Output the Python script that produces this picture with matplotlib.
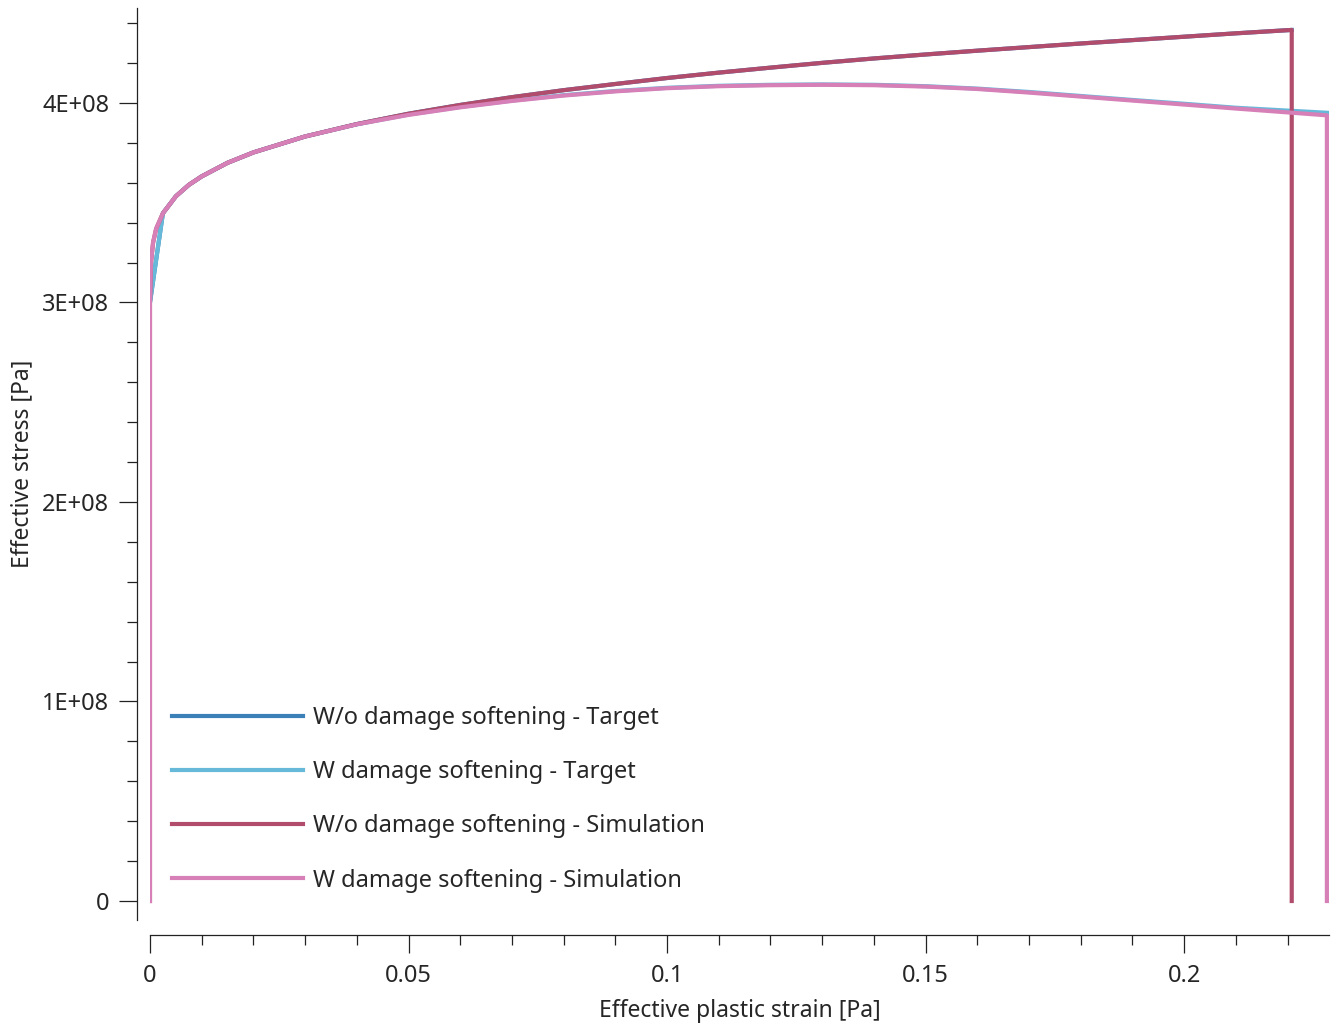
import numpy as np
import matplotlib
matplotlib.use("Agg")
import matplotlib.pyplot as plt
from matplotlib.ticker import MultipleLocator, FuncFormatter

plt.rcParams['font.family'] = ['Noto Sans', 'DejaVu Sans']

# --- data (stress in units of 1E8 Pa) ---
eps_sim = [0.0, 0.0, 0.0002, 0.0006, 0.0012, 0.0025, 0.005, 0.0075, 0.01, 0.015, 0.02,
           0.03, 0.04, 0.05, 0.06, 0.07, 0.08, 0.09, 0.10, 0.11, 0.12, 0.13,
           0.14, 0.15, 0.16, 0.17, 0.18, 0.19, 0.20, 0.21]
eps_tgt = [0.0, 0.0025, 0.005, 0.0075, 0.01, 0.015, 0.02,
           0.03, 0.04, 0.05, 0.06, 0.07, 0.08, 0.09, 0.10, 0.11, 0.12, 0.13,
           0.14, 0.15, 0.16, 0.17, 0.18, 0.19, 0.20, 0.21]

stress_nodmg_sim = [0.0, 3.00, 3.20, 3.30, 3.37, 3.447, 3.532, 3.589, 3.632, 3.700, 3.752,
                    3.832, 3.894, 3.946, 3.990, 4.029, 4.064, 4.095, 4.125, 4.152, 4.177,
                    4.201, 4.223, 4.243, 4.262, 4.280, 4.298, 4.315, 4.332, 4.349]
stress_dmg_sim = [0.0, 3.00, 3.20, 3.30, 3.37, 3.447, 3.532, 3.589, 3.632, 3.700, 3.752,
                  3.832, 3.893, 3.940, 3.978, 4.010, 4.037, 4.058, 4.074, 4.084, 4.089,
                  4.091, 4.089, 4.082, 4.070, 4.052, 4.032, 4.012, 3.992, 3.972]

stress_nodmg_tgt = [3.00, 3.447, 3.532, 3.589, 3.632, 3.700, 3.752,
                    3.832, 3.894, 3.946, 3.990, 4.029, 4.064, 4.095, 4.125, 4.152, 4.177,
                    4.201, 4.223, 4.243, 4.262, 4.280, 4.298, 4.315, 4.332, 4.349]
stress_dmg_tgt = [3.00, 3.447, 3.532, 3.589, 3.632, 3.700, 3.752,
                  3.832, 3.893, 3.942, 3.980, 4.012, 4.039, 4.060, 4.076, 4.086, 4.091,
                  4.093, 4.091, 4.084, 4.072, 4.055, 4.035, 4.015, 3.996, 3.976]

# end points: failure strain and last stress value
end_nodmg = (0.2208, 4.366)
end_dmg_sim = (0.2276, 3.938)
end_dmg_tgt = (0.2282, 3.950)

labels = ['W/o damage softening - Target', 'W damage softening - Target',
          'W/o damage softening - Simulation', 'W damage softening - Simulation']
colors = ['#3b80b7', '#67b9da', '#b14c6c', '#d680b7']

# assemble full curves (sim curves drop to zero at failure)
x_nt = eps_tgt + [end_nodmg[0]]
y_nt = stress_nodmg_tgt + [end_nodmg[1]]
x_dt = eps_tgt + [end_dmg_tgt[0]]
y_dt = stress_dmg_tgt + [end_dmg_tgt[1]]
x_ns = eps_sim + [end_nodmg[0], end_nodmg[0]]
y_ns = stress_nodmg_sim + [end_nodmg[1], 0.0]
x_ds = eps_sim + [end_dmg_sim[0], end_dmg_sim[0]]
y_ds = stress_dmg_sim + [end_dmg_sim[1], 0.0]

fig = plt.figure(figsize=(13.39, 10.24), dpi=100)
ax = fig.add_axes([0.112, 0.1016, 0.8805, 0.8906])

lw = 3.0
ax.plot(x_nt, np.array(y_nt) * 1e8, color=colors[0], lw=lw, label=labels[0])
ax.plot(x_dt, np.array(y_dt) * 1e8, color=colors[1], lw=lw, label=labels[1])
ax.plot(x_ns, np.array(y_ns) * 1e8, color=colors[2], lw=lw, label=labels[2])
ax.plot(x_ds, np.array(y_ds) * 1e8, color=colors[3], lw=lw, label=labels[3])

ax.set_xlim(0, 0.228)
ax.set_ylim(-0.095e8, 4.476e8)

for s in ['top', 'right']:
    ax.spines[s].set_visible(False)
ax.spines['left'].set_position(('outward', 9.4))
ax.spines['bottom'].set_position(('outward', 10.8))
for s in ['left', 'bottom']:
    ax.spines[s].set_color('#222222')
    ax.spines[s].set_linewidth(0.9)

ax.xaxis.set_major_locator(MultipleLocator(0.05))
ax.xaxis.set_minor_locator(MultipleLocator(0.01))
ax.yaxis.set_major_locator(MultipleLocator(1e8))
ax.yaxis.set_minor_locator(MultipleLocator(0.2e8))
ax.xaxis.set_major_formatter(FuncFormatter(lambda v, p: '0' if abs(v) < 1e-12 else f'{v:g}'))
ax.yaxis.set_major_formatter(FuncFormatter(lambda v, p: '0' if abs(v) < 1 else f'{v/1e8:.0f}E+08'))

ax.tick_params(which='major', length=13, width=0.9, color='#222222',
               labelsize=17, labelcolor='#262626', pad=7)
ax.tick_params(axis='x', which='major', pad=8)
ax.tick_params(which='minor', length=7.2, width=0.9, color='#222222')

ax.set_xlabel('Effective plastic strain [Pa]', fontsize=16.5, color='#262626', labelpad=8)
ax.set_ylabel('Effective stress [Pa]', fontsize=16.5, color='#262626', labelpad=6)

ax.legend(loc='lower left', bbox_to_anchor=(0.0187, 0.030), frameon=False,
          fontsize=17, handlelength=5.55, handletextpad=0.42, labelspacing=1.28,
          borderpad=0, borderaxespad=0, labelcolor='#262626')

fig.savefig('out.png', dpi=100)
